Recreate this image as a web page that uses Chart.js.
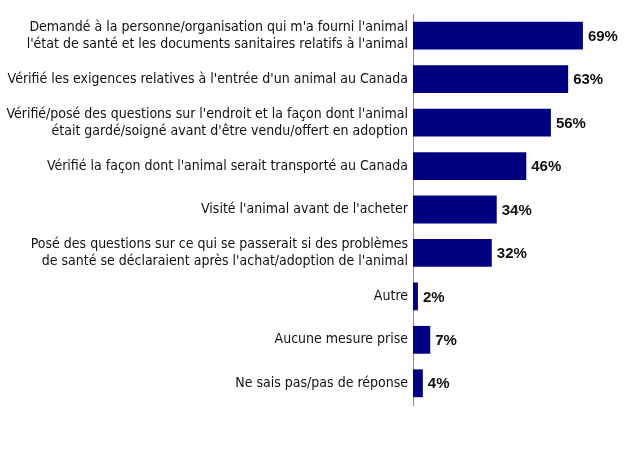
<!DOCTYPE html>
<html>
<head>
<meta charset="utf-8">
<script src="https://cdn.jsdelivr.net/npm/chart.js@4"></script>
<style>
  html, body { margin: 0; padding: 0; background: #fff; }
  #wrap { width: 624px; height: 468px; }
</style>
</head>
<body>
<div id="wrap"><canvas id="chart" width="624" height="468"></canvas></div>
<script>
// categories (multi-line labels as arrays)
const categories = [
    ["Demandé à la personne/organisation qui m'a fourni l'animal", "l'état de santé et les documents sanitaires relatifs à l'animal"],
    "Vérifié les exigences relatives à l'entrée d'un animal au Canada",
    ["Vérifié/posé des questions sur l'endroit et la façon dont l'animal", "était gardé/soigné avant d'être vendu/offert en adoption"],
    "Vérifié la façon dont l'animal serait transporté au Canada",
    "Visité l'animal avant de l'acheter",
    ["Posé des questions sur ce qui se passerait si des problèmes", "de santé se déclaraient après l'achat/adoption de l'animal"],
    "Autre",
    "Aucune mesure prise",
    "Ne sais pas/pas de réponse"
];
const values = [69, 63, 56, 46, 34, 32, 2, 7, 4];

const labelFont = "'Liberation Sans Narrow', 'DejaVu Sans Condensed', 'Liberation Sans', Arial, sans-serif";

// draws the bold percentage next to each bar
const valueLabels = {
    id: 'valueLabels',
    afterDatasetsDraw(chart) {
        const ctx = chart.ctx;
        const meta = chart.getDatasetMeta(0);
        ctx.save();
        ctx.font = "bold 15px 'Liberation Sans', Arial, sans-serif";
        ctx.fillStyle = '#111';
        ctx.textAlign = 'left';
        ctx.textBaseline = 'middle';
        meta.data.forEach((bar, i) => {
            ctx.fillText(values[i] + '%', bar.x + 5, bar.y + 1);
        });
        ctx.restore();
    }
};

new Chart(document.getElementById('chart'), {
    type: 'bar',
    data: {
        labels: categories,
        datasets: [{
            data: values,
            backgroundColor: '#000080',
            barPercentage: 0.64,
            categoryPercentage: 1.0
        }]
    },
    options: {
        indexAxis: 'y',
        responsive: false,
        animation: false,
        layout: { padding: { top: 14, bottom: 63, left: 0, right: 14 } },
        plugins: {
            legend: { display: false },
            tooltip: { enabled: false }
        },
        scales: {
            x: {
                display: false,
                min: 0,
                max: 80
            },
            y: {
                afterFit(scale) { scale.width = 413; },
                grid: { display: false, drawTicks: false },
                border: { display: true, color: '#8c8c8c', width: 1 },
                ticks: {
                    padding: 5,
                    color: '#111',
                    font: { family: labelFont, size: 14, lineHeight: 1.2 }
                }
            }
        }
    },
    plugins: [valueLabels]
});
</script>
</body>
</html>
